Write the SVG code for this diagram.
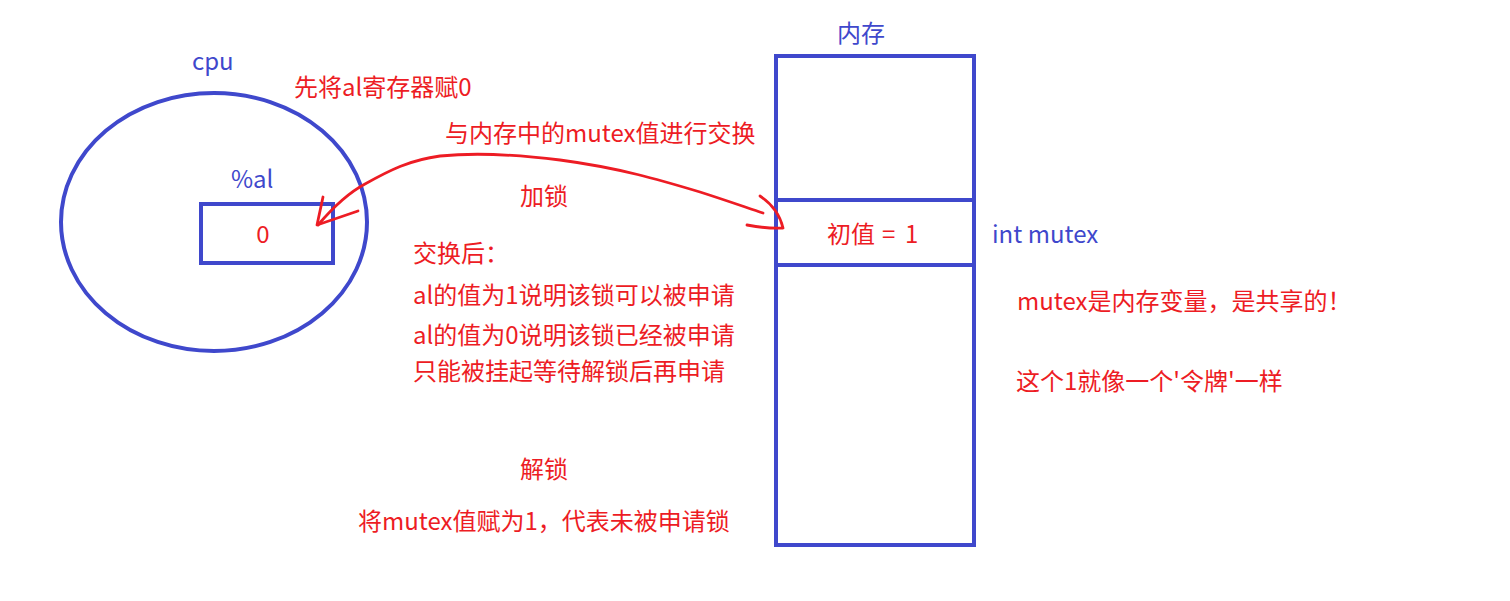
<svg xmlns="http://www.w3.org/2000/svg" width="1510" height="601" viewBox="0 0 1510 601">
<style>
  .blue { fill: none; stroke: #3F48CC; stroke-width: 4; }
  .red { fill: none; stroke: #ED1C24; stroke-width: 2.8; stroke-linecap: round; stroke-linejoin: round; }
  text { font-family: "Noto Sans CJK SC", "Noto Sans", sans-serif; font-size: 24px; }
  .tb { fill: #3F48CC; }
  .tr { fill: #ED1C24; }
</style>
<rect width="1510" height="601" fill="#FFFFFF"/>

<g id="cpu">
  <ellipse class="blue" cx="214" cy="222" rx="153" ry="129"/>
  <text class="tb" x="192" y="70">cpu</text>
</g>

<g id="register-al">
  <rect class="blue" x="201" y="204" width="132" height="59"/>
  <text class="tb" x="231" y="188">%al</text>
  <text class="tr" x="263" y="243" text-anchor="middle">0</text>
</g>

<g id="memory">
  <rect class="blue" x="776" y="56" width="198" height="489"/>
  <line class="blue" x1="776" y1="200" x2="974" y2="200"/>
  <line class="blue" x1="776" y1="265" x2="974" y2="265"/>
  <text class="tb" x="837" y="42">内存</text>
  <text class="tr" x="827" y="243">初值<tspan x="882">=</tspan><tspan x="905">1</tspan></text>
  <text class="tb" x="992" y="243">int mutex</text>
</g>

<g id="notes">
  <text class="tr" x="294" y="96">先将al寄存器赋0</text>
  <text class="tr" x="445" y="142">与内存中的mutex值进行交换</text>
  <text class="tr" x="520" y="205">加锁</text>
  <text class="tr" x="413" y="262">交换后：</text>
  <text class="tr" x="413" y="304">al的值为1说明该锁可以被申请</text>
  <text class="tr" x="413" y="344">al的值为0说明该锁已经被申请</text>
  <text class="tr" x="413" y="380">只能被挂起等待解锁后再申请</text>
  <text class="tr" x="520" y="478">解锁</text>
  <text class="tr" x="358" y="530">将mutex值赋为1，代表未被申请锁</text>
  <text class="tr" x="1017" y="310">mutex是内存变量，是共享的！</text>
  <text class="tr" x="1016" y="390">这个1就像一个'令牌'一样</text>
</g>

<g id="connectors">
  <path class="red" d="M318,225 C335,205 350,192 365,184 C390,170 410,160 440,156 C480,152 520,155 560,160 C620,168 660,180 700,192 C725,200 745,207 763,213"/>
  <path class="red" d="M323,197 L317,225 L358,211"/>
  <path class="red" d="M760,196 C772,204 780,215 783,228 C770,229 758,227 747,225"/>
</g>
</svg>
